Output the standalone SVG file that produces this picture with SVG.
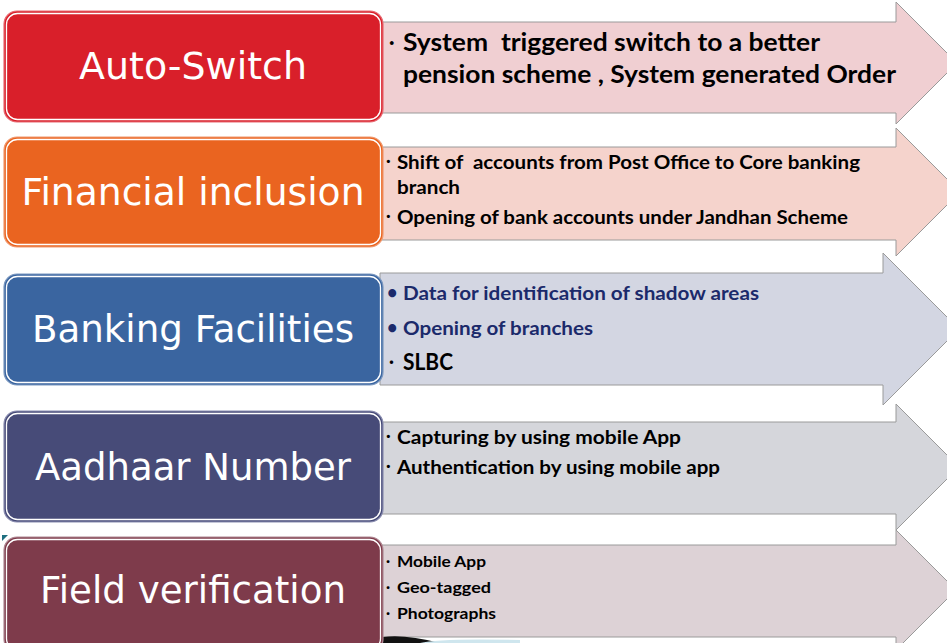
<svg xmlns="http://www.w3.org/2000/svg" width="947" height="643" viewBox="0 0 947 643">
<style>
.arrow{stroke:#9a9a9a;stroke-width:1}
.box{stroke-width:1.2}
.inner{fill:none;stroke:#ffffff;stroke-width:1.3}
.title{font-family:"DejaVu Sans",Verdana,sans-serif;font-size:37px;fill:#ffffff;text-anchor:middle}
.item{font-family:Lato,"Open Sans",sans-serif;font-weight:700;fill:#000000}
.blue{fill:#1b2a6b}
</style>
<rect width="947" height="643" fill="#ffffff"/>
<g id="connectors">
<polygon class="arrow" fill="#f0cfd2" points="380,22 896,22 896,2 957,63 896,124 896,113 380,113"/>
<polygon class="arrow" fill="#f5d3cc" points="380,147 896,147 896,128 960,192 896,256 896,240 380,240"/>
<polygon class="arrow" fill="#d3d6e2" points="380,273 883,273 883,253 959,329 883,405 883,385 380,385"/>
<polygon class="arrow" fill="#d5d6db" points="380,422 896,422 896,404 959,467 896,530 896,514 380,514"/>
<polygon class="arrow" fill="#ddd2d6" points="380,545 896,545 896,530 956,590 896,650 896,637 380,637"/>
<path d="M383,643 L383,637 Q405,634 440,643 Z" fill="#111111"/>
<path d="M420,643 Q440,638 520,640 L520,643 Z" fill="#cfe6ee"/>
<polygon points="2,535 8,535 2,541" fill="#1f6f80"/>
</g>
<g id="n1">
<rect class="box" x="4" y="11" width="379" height="111" rx="13" fill="#d91f2a" stroke="#e86a72"/>
<rect class="inner" x="6.5" y="13.5" width="374" height="106" rx="11"/>
<text class="title" x="193" y="79" textLength="228" lengthAdjust="spacingAndGlyphs">Auto-Switch</text>
<text class="item" x="389" y="49" font-size="20">·</text>
<text class="item" x="403" y="51" font-size="24" textLength="417" lengthAdjust="spacingAndGlyphs" xml:space="preserve">System  triggered switch to a better</text>
<text class="item" x="403" y="83" font-size="24" textLength="493" lengthAdjust="spacingAndGlyphs">pension scheme , System generated Order</text>
</g>
<g id="n2">
<rect class="box" x="4" y="137" width="379" height="110" rx="13" fill="#ea6420" stroke="#f09a70"/>
<rect class="inner" x="6.5" y="139.5" width="374" height="105" rx="11"/>
<text class="title" x="193" y="205" textLength="343" lengthAdjust="spacingAndGlyphs">Financial inclusion</text>
<text class="item" x="386" y="167" font-size="17">·</text>
<text class="item" x="397" y="169" font-size="19" textLength="463" lengthAdjust="spacingAndGlyphs" xml:space="preserve">Shift of  accounts from Post Office to Core banking</text>
<text class="item" x="397" y="194" font-size="19" textLength="63" lengthAdjust="spacingAndGlyphs">branch</text>
<text class="item" x="386" y="222" font-size="17">·</text>
<text class="item" x="397" y="224" font-size="19" textLength="451" lengthAdjust="spacingAndGlyphs">Opening of bank accounts under Jandhan Scheme</text>
</g>
<g id="n3">
<rect class="box" x="4" y="274" width="379" height="111" rx="13" fill="#3a65a0" stroke="#7b98c0"/>
<rect class="inner" x="6.5" y="276.5" width="374" height="106" rx="11"/>
<text class="title" x="193" y="342" textLength="322" lengthAdjust="spacingAndGlyphs">Banking Facilities</text>
<text class="item blue" x="387" y="299" font-size="18">•</text>
<text class="item blue" x="403" y="300" font-size="19" textLength="356" lengthAdjust="spacingAndGlyphs">Data for identification of shadow areas</text>
<text class="item blue" x="387" y="334" font-size="18">•</text>
<text class="item blue" x="403" y="335" font-size="19" textLength="190" lengthAdjust="spacingAndGlyphs">Opening of branches</text>
<text class="item" x="389" y="368" font-size="18">·</text>
<text class="item" x="403" y="370" font-size="22" textLength="50" lengthAdjust="spacingAndGlyphs">SLBC</text>
</g>
<g id="n4">
<rect class="box" x="4" y="411" width="379" height="111" rx="13" fill="#474b78" stroke="#8a8db0"/>
<rect class="inner" x="6.5" y="413.5" width="374" height="106" rx="11"/>
<text class="title" x="193" y="480" textLength="316" lengthAdjust="spacingAndGlyphs">Aadhaar Number</text>
<text class="item" x="386" y="442" font-size="17">·</text>
<text class="item" x="397" y="444" font-size="19" textLength="284" lengthAdjust="spacingAndGlyphs">Capturing by using mobile App</text>
<text class="item" x="386" y="472" font-size="17">·</text>
<text class="item" x="397" y="474" font-size="19" textLength="323" lengthAdjust="spacingAndGlyphs">Authentication by using mobile app</text>
</g>
<g id="n5">
<rect class="box" x="4" y="537" width="379" height="115" rx="13" fill="#7e3b4b" stroke="#b08a94"/>
<rect class="inner" x="6.5" y="539.5" width="374" height="110" rx="11"/>
<text class="title" x="193" y="603" textLength="306" lengthAdjust="spacingAndGlyphs">Field verification</text>
<text class="item" x="386" y="566" font-size="15">·</text>
<text class="item" x="397" y="567" font-size="16" textLength="89" lengthAdjust="spacingAndGlyphs">Mobile App</text>
<text class="item" x="386" y="592" font-size="15">·</text>
<text class="item" x="397" y="593" font-size="16" textLength="94" lengthAdjust="spacingAndGlyphs">Geo-tagged</text>
<text class="item" x="386" y="618" font-size="15">·</text>
<text class="item" x="397" y="619" font-size="16" textLength="99" lengthAdjust="spacingAndGlyphs">Photographs</text>
</g>
</svg>
